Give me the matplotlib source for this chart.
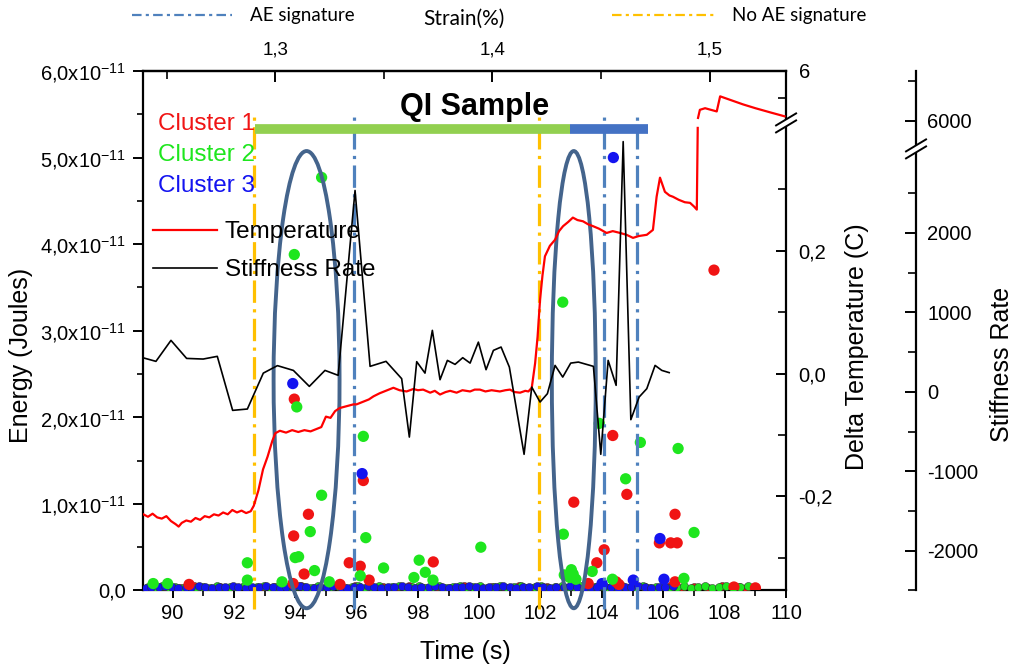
import numpy as np
import matplotlib
matplotlib.use("Agg")
import matplotlib.pyplot as plt
from matplotlib.lines import Line2D
from matplotlib.patches import Ellipse, Polygon
from matplotlib.ticker import FixedLocator, FixedFormatter, NullFormatter
from matplotlib.transforms import IdentityTransform

plt.rcParams['font.family'] = ['Liberation Sans', 'DejaVu Sans']
plt.rcParams['mathtext.fontset'] = 'custom'
plt.rcParams['mathtext.rm'] = 'Liberation Sans'
plt.rcParams['mathtext.it'] = 'Liberation Sans:italic'
plt.rcParams['mathtext.bf'] = 'Liberation Sans:bold'

# ------------------------------------------------------------------ data
E_UNIT = 1e-11  # energies below are given in units of 1e-11 J

# Acoustic-emission hits above the baseline: (time s, energy)
cluster1_events = [(93.97, 2.21), (96.22, 1.27), (94.43, 0.88), (93.95, 0.63), (94.29, 0.19),
                   (95.76, 0.32), (96.12, 0.28), (96.41, 0.12), (98.50, 0.33), (90.54, 0.07),
                   (93.93, 0.08), (95.46, 0.07), (104.35, 1.79), (104.81, 1.11), (103.08, 1.02),
                   (106.38, 0.88), (105.87, 0.55), (106.24, 0.55), (106.45, 0.55), (104.07, 0.47),
                   (103.83, 0.32), (106.38, 0.10), (104.46, 0.10), (104.55, 0.07), (103.55, 0.08),
                   (107.65, 3.70), (108.30, 0.04), (109.00, 0.03)]
cluster2_events = [(94.86, 4.77), (93.97, 3.88), (94.05, 2.12), (96.22, 1.78), (94.86, 1.10),
                   (94.49, 0.68), (96.30, 0.61), (94.11, 0.39), (94.00, 0.38), (92.44, 0.32),
                   (94.63, 0.23), (96.12, 0.17), (96.88, 0.26), (98.04, 0.35), (98.24, 0.21),
                   (97.87, 0.15), (98.49, 0.12), (92.44, 0.12), (93.57, 0.10), (95.11, 0.10),
                   (89.37, 0.08), (89.84, 0.08), (102.72, 3.33), (103.91, 1.93), (105.25, 1.71),
                   (106.48, 1.64), (104.77, 1.29), (107.00, 0.67), (100.05, 0.50), (102.74, 0.65),
                   (103.68, 0.22), (102.95, 0.15), (103.06, 0.19), (103.15, 0.13), (103.00, 0.24),
                   (102.77, 0.18), (106.67, 0.14), (104.34, 0.13)]
cluster3_events = [(93.92, 2.39), (96.18, 1.35), (104.37, 5.00), (105.89, 0.60), (105.02, 0.12),
                   (106.02, 0.13), (104.00, 0.08)]

# Low-energy hits along the baseline: (time s, energy)
cluster1_floor = [(89.35, .03), (89.80, .04), (90.25, .03), (90.70, .05), (91.10, .03), (91.55, .04),
                  (92.00, .03), (92.45, .05), (92.90, .03), (93.30, .04), (93.75, .03), (94.20, .05),
                  (94.62, .03), (95.08, .04), (95.50, .03), (95.95, .05), (96.40, .03), (96.85, .04),
                  (97.30, .03), (97.72, .05), (98.15, .03), (98.60, .04), (99.05, .03), (99.50, .05),
                  (99.95, .03), (100.40, .04), (100.85, .03), (101.30, .05), (101.75, .03), (102.20, .04),
                  (102.60, .03), (103.00, .05), (103.40, .03), (103.80, .04), (104.20, .03), (104.60, .05),
                  (105.00, .03), (105.40, .04), (105.80, .03), (106.20, .05), (106.60, .03), (107.00, .04),
                  (107.45, .03), (107.90, .05), (108.45, .04), (108.70, .03)]
cluster2_floor = [(89.20, .04), (89.45, .03), (89.66, .05), (89.90, .03), (90.08, .04), (90.33, .03),
                  (90.55, .05), (90.78, .03), (91.00, .04), (91.23, .03), (91.44, .05), (91.66, .03),
                  (91.88, .04), (92.10, .03), (92.33, .05), (92.52, .03), (92.75, .04), (92.98, .05),
                  (93.20, .03), (93.40, .04), (93.63, .05), (93.85, .03), (94.07, .05), (94.30, .04),
                  (94.52, .03), (94.74, .05), (94.98, .03), (95.18, .04), (95.40, .05), (95.62, .03),
                  (95.86, .04), (96.05, .05), (96.27, .03), (96.50, .04), (96.72, .05), (96.95, .03),
                  (97.15, .04), (97.38, .05), (97.60, .03), (97.82, .04), (98.03, .05), (98.27, .03),
                  (98.47, .04), (98.70, .05), (98.92, .03), (99.13, .04), (99.36, .05), (99.58, .03),
                  (99.80, .04), (100.03, .05), (100.24, .03), (100.48, .04), (100.69, .05), (100.91, .03),
                  (101.13, .04), (101.36, .05), (101.57, .03), (101.80, .04), (102.02, .05), (102.24, .03),
                  (102.46, .04), (102.68, .05), (102.90, .03), (103.12, .04), (103.33, .05), (103.56, .03),
                  (103.78, .04), (104.00, .05), (104.22, .03), (104.44, .04), (104.66, .05), (104.88, .03),
                  (105.10, .04), (105.32, .05), (105.55, .03), (105.77, .04), (106.00, .05), (106.22, .03),
                  (106.45, .04), (106.66, .05), (106.90, .03), (107.12, .04), (107.35, .05), (107.58, .03),
                  (107.80, .04), (108.05, .05), (108.28, .03), (108.50, .04), (108.75, .05)]
cluster3_floor = [(89.12, .03), (89.31, .045), (89.55, .035), (89.74, .05), (89.98, .04),
                  (90.19, .03), (90.43, .045), (90.61, .035), (90.87, .05), (91.06, .04),
                  (91.30, .03), (91.52, .045), (91.71, .035), (91.96, .05), (92.15, .04),
                  (92.40, .03), (92.58, .045), (92.83, .035), (93.04, .05), (93.27, .04),
                  (93.49, .03), (93.70, .045), (93.92, .035), (94.16, .05), (94.35, .04),
                  (94.60, .03), (94.81, .045), (95.05, .035), (95.24, .05), (95.48, .04),
                  (95.69, .03), (95.93, .045), (96.12, .035), (96.37, .05), (96.58, .04),
                  (96.80, .03), (97.03, .045), (97.22, .035), (97.47, .05), (97.66, .04),
                  (97.91, .03), (98.10, .045), (98.35, .035), (98.55, .05), (98.79, .04),
                  (99.00, .03), (99.23, .045), (99.44, .035), (99.67, .05), (99.88, .04),
                  (100.12, .03), (100.31, .045), (100.56, .035), (100.77, .05), (100.99, .04),
                  (101.20, .03), (101.44, .045), (101.63, .035), (101.88, .05), (102.08, .04),
                  (102.32, .03), (102.51, .045), (102.76, .035), (102.97, .05), (103.20, .04),
                  (103.41, .03), (103.64, .045), (103.85, .035), (104.08, .05), (104.30, .04),
                  (104.52, .03), (104.74, .045), (104.95, .035), (105.18, .05), (105.40, .04),
                  (105.61, .03), (105.85, .045), (106.06, .035), (106.30, .05)]

# Delta temperature (C) versus time (s); NaN marks the axis break
temp_time = [89.05, 89.2, 89.35, 89.5, 89.65, 89.8, 89.95, 90.1, 90.2, 90.3, 90.45, 90.6, 90.75,
             90.9, 91.05, 91.2, 91.35, 91.5, 91.65, 91.8, 91.95, 92.1, 92.25, 92.4, 92.55,
             92.65, 92.8, 92.95, 93.1, 93.25, 93.35,
             93.5, 93.7, 93.9, 94.1, 94.3, 94.5, 94.7, 94.85,
             95.0, 95.15, 95.3, 95.45, 95.6, 95.75, 95.9, 96.0, 96.2, 96.4, 96.55, 96.75, 96.95, 97.2,
             97.4, 97.63, 97.85, 98.0, 98.17, 98.4, 98.55, 98.72, 98.9, 99.05, 99.26, 99.45,
             99.7, 99.85, 100.02, 100.2, 100.4, 100.67, 100.85, 101.0, 101.15, 101.33, 101.5, 101.6,
             101.71, 101.82, 101.9, 101.98, 102.06, 102.14, 102.3, 102.47, 102.6, 102.73, 102.9,
             103.05, 103.2, 103.38, 103.55, 103.71, 103.9, 104.15, 104.35, 104.59, 104.8, 105.01,
             105.2, 105.46, 105.66,
             105.78, 105.89, 106.05, 106.2, 106.31, 106.5, 106.7, 106.87, 107.0, 107.09, 107.12,
             107.125, 107.13, 107.19, 107.36, 107.55, 107.74, 107.85, 108.2, 108.6, 109.0, 109.5,
             109.95]
temp_delta = [-0.229, -0.233, -0.228, -0.234, -0.236, -0.232, -0.240, -0.245, -0.249, -0.243,
              -0.239, -0.241, -0.235, -0.238, -0.232, -0.234, -0.229, -0.231, -0.226, -0.229,
              -0.222, -0.226, -0.223, -0.227, -0.224,
              -0.215, -0.190, -0.156, -0.135, -0.110, -0.097,
              -0.093, -0.096, -0.092, -0.095, -0.092, -0.094, -0.090, -0.087,
              -0.070, -0.072, -0.061, -0.056, -0.054, -0.052, -0.050, -0.050, -0.046, -0.042,
              -0.037, -0.032, -0.028, -0.023,
              -0.027, -0.029, -0.025, -0.027, -0.026, -0.031, -0.028, -0.034, -0.030, -0.028,
              -0.031, -0.027, -0.029, -0.026, -0.026, -0.029, -0.027, -0.029, -0.027, -0.026,
              -0.030, -0.031, -0.028, -0.029,
              -0.023, 0.017, 0.060, 0.120, 0.160, 0.191, 0.208, 0.218, 0.232, 0.240, 0.247,
              0.254, 0.250, 0.248, 0.243, 0.240, 0.236, 0.229, 0.232, 0.229, 0.226, 0.221,
              0.224, 0.226, 0.234,
              0.288, 0.319, 0.296, 0.290, 0.288, 0.283, 0.279, 0.278, 0.272, 0.267, 0.400,
              np.nan, 5.13, 5.28, 5.31, 5.28, 5.25, 5.53, 5.46, 5.38, 5.31, 5.23,
              5.16]

# Stiffness rate versus time (s)
stiff_time = [89.03, 89.46, 89.95, 90.46, 91.0, 91.46, 91.96, 92.44, 92.96, 93.42,
              93.94, 94.46, 94.97, 95.40, 95.95, 96.44, 96.96, 97.47, 97.72, 97.96,
              98.23, 98.47, 98.72, 98.96, 99.21, 99.46, 99.70, 99.97, 100.22, 100.46,
              100.71, 100.98, 101.46, 101.71, 101.98, 102.22, 102.47, 102.72, 102.98, 103.23,
              103.72, 103.96, 104.20, 104.46, 104.69, 104.94, 105.21, 105.46, 105.73, 105.95,
              106.19]
stiff_rate = [430, 384, 648, 421, 413, 447, -233, -216, 236, 330,
              270, 69, 270, 208, 2535, 321, 384, 166, -569, 380,
              236, 774, 153, 396, 346, 430, 362, 626, 279, 522,
              564, 312, -786, 60, -128, -23, 333, 186, 362, 375,
              321, -786, 396, 82, 3150, -350, -65, 40, 333, 270,
              242]

# Signature markers and highlighted regions (time s)
ae_signature_times = [95.9, 104.05, 105.15]
no_ae_signature_times = [92.65, 101.95]
highlight_centres = [94.37, 103.08]
highlight_widths = [2.15, 1.43]
phase_starts = [92.69, 102.96]
phase_ends = [102.96, 105.5]

# Strain (%) reached at two reference times, for the top axis
strain_ref_time = [93.354, 107.506]
strain_ref_value = [1.3, 1.5]

# Axis ticks
time_major = [90, 92, 94, 96, 98, 100, 102, 104, 106, 108, 110]
energy_major = [0, 1, 2, 3, 4, 5, 6]
energy_labels = ['0,0'] + [f'{v},0x10$^{{-11}}$' for v in energy_major[1:]]
strain_major = [1.3, 1.4, 1.5]
strain_labels = ['1,3', '1,4', '1,5']
strain_minor = [1.25, 1.35, 1.45]
temp_major = [-0.2, 0.0, 0.2, 6]
temp_labels = ['-0,2', '0,0', '0,2', '6']
temp_minor = [-0.3, -0.1, 0.1, 0.3, 5.5]
stiff_major = [-2000, -1000, 0, 1000, 2000, 6000]
stiff_labels = ['-2000', '-1000', '0', '1000', '2000', '6000']
stiff_minor = [-2500, -1500, -500, 500, 1500, 2500, 6500]

# Broken right-hand scales: value knots and their relative heights
temp_knots = [-0.353, 0.40, 5.13, 6.0]
temp_knot_pos = [0, 463, 473, 520]
stiff_knots = [-2500, 3165, 5880, 6623]
stiff_knot_pos = [0, 450.5, 460.5, 520]
stiff_break_pos = 442  # where the "//" sits on the stiffness spine

# ------------------------------------------------------------------ style
C_RED, C_GREEN, C_BLUE = '#F01414', '#1EE61E', '#1414F0'
C_AE, C_NOAE = '#4F81BD', '#FFC000'
C_ELLIPSE = '#44648C'
C_PHASE = ['#92D050', '#4472C4']
TICK_FS, LABEL_FS, LEG_FS, TOP_FS = 14.5, 18, 17.5, 13.5


def piecewise(knots, pos):
    kv = np.asarray(knots, float)
    kp = np.asarray(pos, float)

    def make(src, dst):
        lo = (dst[1] - dst[0]) / (src[1] - src[0])
        hi = (dst[-1] - dst[-2]) / (src[-1] - src[-2])

        def f(x):
            x = np.asarray(x, float)
            y = np.interp(x, src, dst)
            y = np.where(x < src[0], dst[0] + (x - src[0]) * lo, y)
            y = np.where(x > src[-1], dst[-1] + (x - src[-1]) * hi, y)
            return np.where(np.isnan(x), np.nan, y)
        return f
    return make(kv, kp), make(kp, kv)


fig = plt.figure(figsize=(10.16, 6.72), dpi=100, facecolor='white')
ax = fig.add_axes([0.1405, 0.1213, 0.6332, 0.7731])

# -- scatter of AE hits
for pts, col in ((cluster1_floor, C_RED), (cluster2_floor, C_GREEN), (cluster3_floor, C_BLUE)):
    t, e = zip(*pts)
    ax.scatter(t, np.array(e) * E_UNIT, s=34, c=col, edgecolors='#303030',
               linewidths=0.35, zorder=3)
for pts, col in ((cluster1_events, C_RED), (cluster2_events, C_GREEN), (cluster3_events, C_BLUE)):
    t, e = zip(*pts)
    ax.scatter(t, np.array(e) * E_UNIT, s=66, c=col, edgecolors='none', zorder=4)

# -- signature lines
line_top, line_bottom = 5.48 * E_UNIT, -0.21 * E_UNIT
for t in ae_signature_times:
    ax.add_line(Line2D([t, t], [line_bottom, line_top], color=C_AE, lw=2.3,
                       dashes=(7, 2, 1, 2), clip_on=False, zorder=5))
for t in no_ae_signature_times:
    ax.add_line(Line2D([t, t], [line_bottom, line_top], color=C_NOAE, lw=2.3,
                       dashes=(7, 2, 1, 2), clip_on=False, zorder=5))

# -- highlighted regions
for xc, w in zip(highlight_centres, highlight_widths):
    ax.add_patch(Ellipse((xc, 2.435 * E_UNIT), w, 5.28 * E_UNIT, fill=False,
                         ec=C_ELLIPSE, lw=2.8, clip_on=False, zorder=6))

# -- loading phases bar and title
for x0, x1, col in zip(phase_starts, phase_ends, C_PHASE):
    ax.hlines(5.33 * E_UNIT, x0, x1, colors=col, lw=7, zorder=7)
ax.text(99.86, 5.58 * E_UNIT, 'QI Sample', ha='center', va='center',
        fontsize=22, fontweight='bold', zorder=8)

ax.set_xlim(89.03, 110)
ax.set_ylim(0, 6 * E_UNIT)
ax.xaxis.set_major_locator(FixedLocator(time_major))
ax.xaxis.set_minor_locator(FixedLocator([v + 1 for v in time_major[:-1]]))
ax.yaxis.set_major_locator(FixedLocator([v * E_UNIT for v in energy_major]))
ax.yaxis.set_major_formatter(FixedFormatter(energy_labels))
ax.yaxis.set_minor_locator(FixedLocator([(v + 0.5) * E_UNIT for v in energy_major[:-1]]))
ax.tick_params(axis='both', which='major', direction='out', length=7, width=1.4,
               labelsize=TICK_FS)
ax.tick_params(axis='both', which='minor', direction='out', length=4.5, width=1.2)
ax.tick_params(axis='x', which='major', length=6, pad=4)
ax.tick_params(axis='y', which='major', pad=5)
for s in ('left', 'bottom', 'top'):
    ax.spines[s].set_linewidth(1.6)
ax.spines['right'].set_visible(False)
ax.set_xlabel('Time (s)', fontsize=LABEL_FS)
ax.xaxis.set_label_coords(0.501, -0.095)
ax.set_ylabel('Energy (Joules)', fontsize=LABEL_FS)
ax.yaxis.set_label_coords(-0.170, 0.453)

# -- top strain axis
def time_to_strain(t):
    k = (strain_ref_value[1] - strain_ref_value[0]) / (strain_ref_time[1] - strain_ref_time[0])
    return strain_ref_value[0] + (np.asarray(t, float) - strain_ref_time[0]) * k


def strain_to_time(s):
    k = (strain_ref_time[1] - strain_ref_time[0]) / (strain_ref_value[1] - strain_ref_value[0])
    return strain_ref_time[0] + (np.asarray(s, float) - strain_ref_value[0]) * k


secax = ax.secondary_xaxis('top', functions=(time_to_strain, strain_to_time))
secax.xaxis.set_major_locator(FixedLocator(strain_major))
secax.xaxis.set_major_formatter(FixedFormatter(strain_labels))
secax.xaxis.set_minor_locator(FixedLocator(strain_minor))
secax.tick_params(which='major', direction='in', length=8, width=1.4, labelsize=TOP_FS, pad=9)
secax.tick_params(which='minor', direction='in', length=6, width=1.2)
secax.spines['top'].set_linewidth(1.6)
secax.set_xlabel('Strain(%)', fontsize=15, family=['Lato', 'DejaVu Sans'], labelpad=12)

# -- delta temperature axis (broken)
tax = ax.twinx()
tax.set_yscale('function', functions=piecewise(temp_knots, temp_knot_pos))
tax.plot(temp_time, temp_delta, color='#FF0000', lw=1.6, zorder=3)
tax.set_ylim(temp_knots[0], temp_knots[-1])
tax.yaxis.set_major_locator(FixedLocator(temp_major))
tax.yaxis.set_major_formatter(FixedFormatter(temp_labels))
tax.yaxis.set_minor_locator(FixedLocator(temp_minor))
tax.yaxis.set_minor_formatter(NullFormatter())
tax.tick_params(which='major', direction='in', length=7, width=1.4, labelsize=TICK_FS, pad=9)
tax.tick_params(which='minor', direction='in', length=6, width=1.2)
for s in ('left', 'top', 'bottom'):
    tax.spines[s].set_visible(False)
tax.spines['right'].set_linewidth(1.6)
tax.set_ylabel('Delta Temperature (C)', fontsize=LABEL_FS)
tax.yaxis.set_label_coords(1.0917, 0.4687)

# -- stiffness rate axis (broken, offset)
sax = ax.twinx()
sax.set_yscale('function', functions=piecewise(stiff_knots, stiff_knot_pos))
sax.spines['right'].set_position(('axes', 1.202))
sax.plot(stiff_time, stiff_rate, color='black', lw=1.2, zorder=3)
sax.set_ylim(stiff_knots[0], stiff_knots[-1])
sax.yaxis.set_major_locator(FixedLocator(stiff_major))
sax.yaxis.set_major_formatter(FixedFormatter(stiff_labels))
sax.yaxis.set_minor_locator(FixedLocator(stiff_minor))
sax.yaxis.set_minor_formatter(NullFormatter())
sax.tick_params(which='major', direction='in', length=8, width=1.4, labelsize=TICK_FS, pad=8)
sax.tick_params(which='minor', direction='in', length=6, width=1.2)
for s in ('left', 'top', 'bottom'):
    sax.spines[s].set_visible(False)
sax.spines['right'].set_linewidth(1.6)
sax.set_ylabel('Stiffness Rate', fontsize=LABEL_FS)
sax.yaxis.set_label_coords(1.317, 0.436)

# -- legends inside the plot
cluster_handles = [Line2D([], [], linestyle='none') for _ in range(3)]
leg1 = sax.legend(cluster_handles, ['Cluster 1', 'Cluster 2', 'Cluster 3'],
                  loc='upper left', bbox_to_anchor=(0.0238, 0.919), frameon=False,
                  fontsize=LEG_FS, handlelength=0, handletextpad=0, borderpad=0,
                  borderaxespad=0, labelspacing=0.36,
                  labelcolor=[C_RED, C_GREEN, C_BLUE])
sax.add_artist(leg1)
series_handles = [Line2D([], [], color='#FF0000', lw=1.6), Line2D([], [], color='black', lw=1.2)]
sax.legend(series_handles, ['Temperature', 'Stiffness Rate'], loc='upper left',
           bbox_to_anchor=(0.016, 0.711), frameon=False, fontsize=LEG_FS,
           handlelength=2.63, handletextpad=0.33, borderpad=0, borderaxespad=0,
           labelspacing=0.67)

# -- legends for the signature lines above the plot
top_font = {'family': ['Lato', 'DejaVu Sans'], 'size': TOP_FS}
fig.legend([Line2D([], [], color=C_AE, lw=1.6, dashes=(4.3, 1.9, 1.4, 1.9))],
           ['AE signature'], loc='center left', bbox_to_anchor=(131.7 / 1016, 1 - 16 / 672),
           frameon=False, prop=top_font, handlelength=5.33, handletextpad=0.96,
           borderpad=0, borderaxespad=0)
fig.legend([Line2D([], [], color=C_NOAE, lw=1.6, dashes=(4.3, 1.9, 1.4, 1.9))],
           ['No AE signature'], loc='center left', bbox_to_anchor=(611.7 / 1016, 1 - 16 / 672),
           frameon=False, prop=top_font, handlelength=5.5, handletextpad=0.94,
           borderpad=0, borderaxespad=0)


# -- break marks on the broken spines
def break_mark(axes, x_axes, y_mid, dx=10, dy=6, gap=7):
    xd = axes.transAxes.transform((x_axes, 0))[0]
    yd = axes.transData.transform((0, y_mid))[1]
    poly = Polygon([(xd - dx, yd - dy - gap / 2), (xd + dx, yd + dy - gap / 2),
                    (xd + dx, yd + dy + gap / 2), (xd - dx, yd - dy + gap / 2)],
                   closed=True, fc='white', ec='none', transform=IdentityTransform(), zorder=20)
    fig.add_artist(poly)
    for off in (-gap / 2, gap / 2):
        fig.add_artist(Line2D([xd - dx, xd + dx], [yd - dy + off, yd + dy + off], color='black',
                              lw=1.4, transform=IdentityTransform(), zorder=21))


temp_fwd, temp_inv = piecewise(temp_knots, temp_knot_pos)
stiff_fwd, stiff_inv = piecewise(stiff_knots, stiff_knot_pos)
break_mark(tax, 1.0, float(temp_inv(0.5 * (temp_knot_pos[1] + temp_knot_pos[2]))))
break_mark(sax, 1.202, float(stiff_inv(stiff_break_pos)))

fig.savefig('out.png', dpi=100, facecolor='white')
